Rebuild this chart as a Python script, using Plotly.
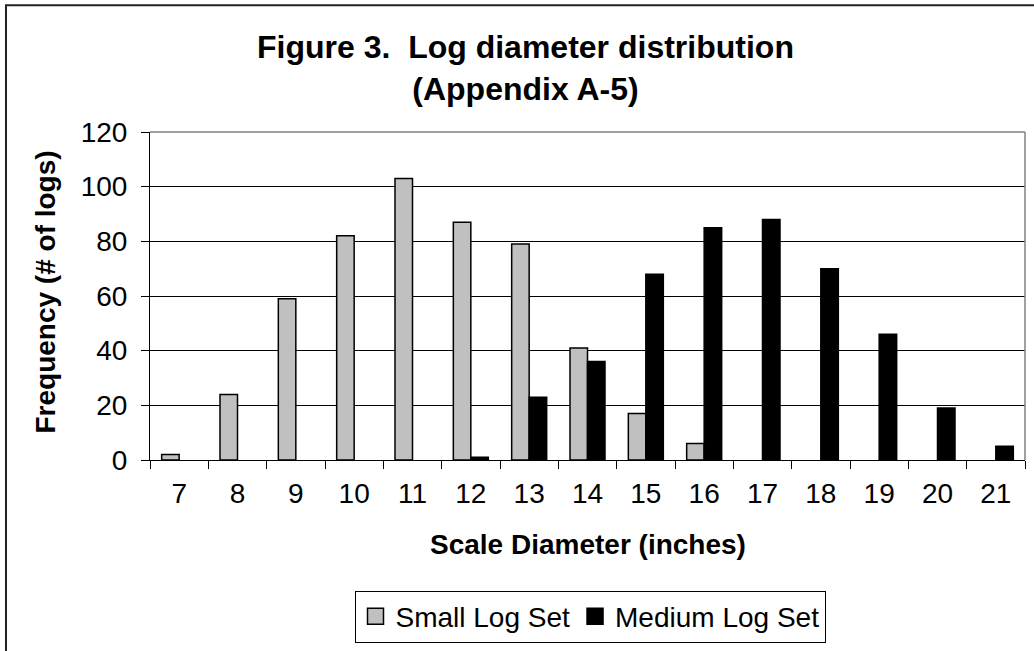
import plotly.graph_objects as go

# Data
diameters = ["7", "8", "9", "10", "11", "12", "13", "14", "15", "16", "17", "18", "19", "20", "21"]
small_log_set = [2, 24, 59, 82, 103, 87, 79, 41, 17, 6, 0, 0, 0, 0, 0]
medium_log_set = [0, 0, 0, 0, 0, 1, 23, 36, 68, 85, 88, 70, 46, 19, 5]
y_ticks = [0, 20, 40, 60, 80, 100, 120]
series_names = ["Small Log Set", "Medium Log Set"]
series_colors = ["#C0C0C0", "black"]

W, H = 1034, 651
L, R, T, B = 150, 1025, 132, 463  # plot area in pixels
pw, ph = R - L, B - T

def px_x(x):
    return (x - L) / pw

def px_y(y):
    return (B - y) / ph

FONT = "Liberation Sans, Arial, sans-serif"

def outline(vals):
    # no visible outline for empty (zero-height) bars
    return [1.5 if v > 0 else 0 for v in vals]

fig = go.Figure()
for name, vals, col in zip(series_names, [small_log_set, medium_log_set], series_colors):
    fig.add_trace(go.Bar(
        x=diameters, y=vals, name=name, showlegend=False, legendgroup=name,
        marker=dict(color=col, line=dict(color="black", width=outline(vals))),
    ))
# legend entries with larger square keys
for name, col in zip(series_names, series_colors):
    fig.add_trace(go.Scatter(
        x=[None], y=[None], mode="markers", name=name, legendgroup=name,
        marker=dict(symbol="square", size=16, color=col, line=dict(color="black", width=1.5)),
    ))

fig.update_layout(
    width=W, height=H,
    margin=dict(l=L, r=W - R, t=T, b=H - B, pad=0),
    paper_bgcolor="white", plot_bgcolor="white",
    barmode="group", bargap=0.4, bargroupgap=0,
    font=dict(family=FONT, size=28, color="black"),
    showlegend=True,
    legend=dict(
        orientation="h", x=px_x(590), y=px_y(621),
        xanchor="center", yanchor="middle",
        bordercolor="black", borderwidth=1, bgcolor="white",
        font=dict(family=FONT, size=28, color="black"),
        itemwidth=30, traceorder="normal",
    ),
)

fig.update_xaxes(
    type="category", categoryorder="array", categoryarray=diameters,
    tickson="boundaries", ticks="outside", ticklen=8, tickcolor="black", tickwidth=1,
    showline=True, linecolor="black", linewidth=1,
    showgrid=False, tickfont=dict(size=28), ticklabelstandoff=8,
)
fig.update_yaxes(
    range=[0, 120], tickvals=y_ticks, ticks="outside", ticklen=8,
    tickcolor="black", tickwidth=1,
    showline=True, linecolor="black", linewidth=1,
    showgrid=True, gridcolor="black", gridwidth=1, zeroline=False,
    tickfont=dict(size=28), ticklabelstandoff=8,
)

# plot-area border (top and right) in gray
fig.add_shape(type="line", xref="paper", yref="paper", x0=0, x1=1, y0=1, y1=1,
              line=dict(color="#808080", width=1.5))
fig.add_shape(type="line", xref="paper", yref="paper", x0=1, x1=1, y0=0, y1=1,
              line=dict(color="#808080", width=1.5))

# outer chart frame
fig.add_shape(type="rect", xref="paper", yref="paper",
              x0=px_x(6), x1=px_x(1045), y0=px_y(4), y1=px_y(665),
              line=dict(color="#222222", width=2), layer="below")

# title
fig.add_annotation(
    text="<b>Figure 3.  Log diameter distribution<br>(Appendix A-5)</b>",
    xref="paper", yref="paper", x=px_x(525), y=px_y(67), xanchor="center", yanchor="middle",
    showarrow=False, font=dict(family=FONT, size=32, color="black"), align="center",
)
# axis titles
fig.add_annotation(
    text="<b>Frequency (# of logs)</b>", textangle=-90,
    xref="paper", yref="paper", x=px_x(46), y=px_y(294), xanchor="center", yanchor="middle",
    showarrow=False, font=dict(family=FONT, size=28, color="black"),
)
fig.add_annotation(
    text="<b>Scale Diameter (inches)</b>",
    xref="paper", yref="paper", x=px_x(588), y=px_y(548), xanchor="center", yanchor="middle",
    showarrow=False, font=dict(family=FONT, size=28, color="black"),
)

fig.write_html("out.html")
